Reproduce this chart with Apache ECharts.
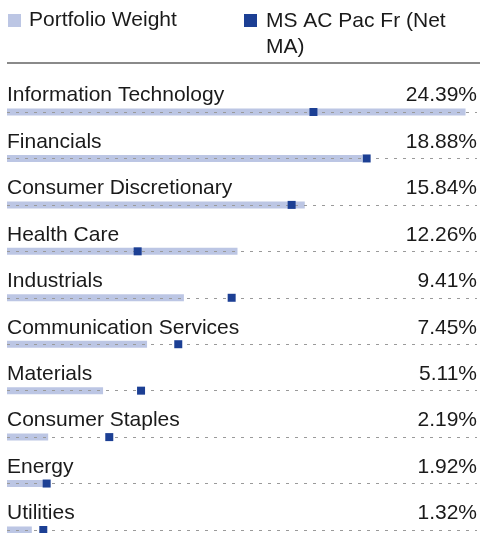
<!DOCTYPE html>
<html>
<head>
<meta charset="utf-8">
<script src="https://cdn.jsdelivr.net/npm/echarts@6/dist/echarts.min.js"></script>
<style>
    html, body { margin: 0; padding: 0; background: #fff; }
    #chart { width: 480px; height: 533px; }
</style>
</head>
<body>
<div id="chart"></div>
<script>
// sectors, top to bottom
const sectors = [
    "Information Technology", "Financials", "Consumer Discretionary", "Health Care",
    "Industrials", "Communication Services", "Materials", "Consumer Staples",
    "Energy", "Utilities"
];
const portfolioWeight = [24.39, 18.88, 15.84, 12.26, 9.41, 7.45, 5.11, 2.19, 1.92, 1.32];
const benchmarkWeight = [16.3, 19.13, 15.14, 6.95, 11.95, 9.11, 7.13, 5.44, 2.11, 1.93];
const seriesNames = ["Portfolio Weight", "MS AC Pac Fr (Net MA)"];

const FONT = "'Liberation Sans', Arial, Helvetica, sans-serif";
const LIGHT = "#bcc6e4";
const DARK = "#1c3f94";

const chart = echarts.init(document.getElementById("chart"));

const labelStyle = {
    inside: true,
    margin: 0,
    color: "#1a1a1a",
    fontFamily: FONT,
    fontSize: 21,
    lineHeight: 21,
    verticalAlign: "bottom",
    padding: [0, 0, 6, 0]
};

chart.setOption({
    animation: false,
    graphic: [
        // legend, drawn by hand so the long name wraps like the original
        { type: "rect", left: 8, top: 14, shape: { width: 13, height: 13 }, style: { fill: LIGHT } },
        { type: "text", left: 29, top: 10, style: { text: seriesNames[0], font: "21px " + FONT, fill: "#1a1a1a" } },
        { type: "rect", left: 244, top: 14, shape: { width: 13, height: 13 }, style: { fill: DARK } },
        { type: "text", left: 266, top: 8, style: { text: "MS AC Pac Fr (Net\nMA)", font: "21px " + FONT, lineHeight: 26, fill: "#1a1a1a" } },
        { type: "rect", left: 7, top: 62, shape: { width: 473, height: 2 }, style: { fill: "#8a8a8a" } }
    ],
    grid: { left: 7, right: 3, top: 88.8, height: 464.4, outerBoundsMode: "none" },
    xAxis: { type: "value", min: 0, max: 25, show: false },
    yAxis: [
        {
            type: "category",
            data: sectors,
            inverse: true,
            axisLine: { show: false },
            axisTick: { show: false },
            splitLine: { show: false },
            axisLabel: Object.assign({ align: "left" }, labelStyle)
        },
        {
            type: "category",
            position: "right",
            data: sectors,
            inverse: true,
            axisLine: { show: false },
            axisTick: { show: false },
            splitLine: { show: false },
            axisLabel: Object.assign({
                align: "right",
                formatter: (v, i) => portfolioWeight[i].toFixed(2) + "%"
            }, labelStyle)
        }
    ],
    series: [
        {
            name: seriesNames[0],
            type: "bar",
            data: portfolioWeight,
            barWidth: 7,
            itemStyle: { color: LIGHT },
            z: 2,
            markLine: {
                silent: true,
                symbol: ["none", "none"],
                label: { show: false },
                lineStyle: { color: "#9a9a9a", width: 1, type: [3, 6] },
                data: sectors.map(s => ({ yAxis: s }))
            }
        },
        {
            name: seriesNames[1],
            type: "scatter",
            data: benchmarkWeight,
            symbol: "rect",
            symbolSize: [8, 8],
            itemStyle: { color: DARK, opacity: 1 },
            z: 5
        }
    ]
});
</script>
</body>
</html>
